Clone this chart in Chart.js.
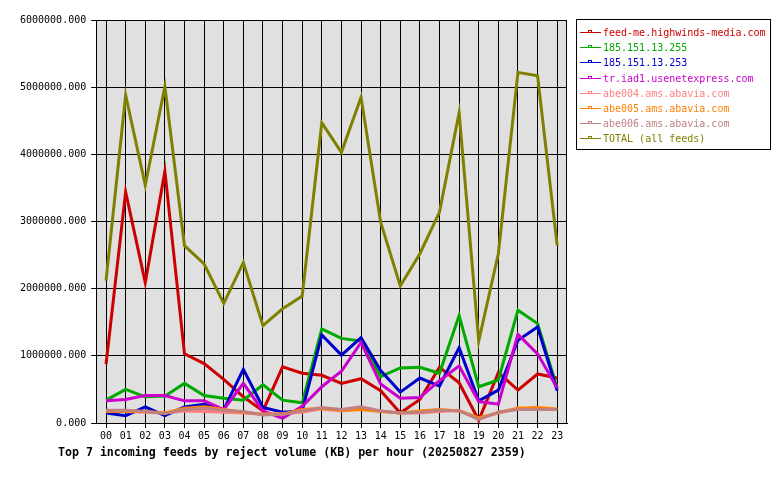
<!DOCTYPE html>
<html>
<head>
<meta charset="utf-8">
<script src="https://cdn.jsdelivr.net/npm/chart.js@4.4.1/dist/chart.umd.min.js"></script>
<style>
  body { margin: 0; background: #fff; }
</style>
</head>
<body>
<canvas id="myChart" width="780" height="480"></canvas>
<script>
var hours = ['00','01','02','03','04','05','06','07','08','09','10','11','12','13','14','15','16','17','18','19','20','21','22','23'];

var feedNames = ['feed-me.highwinds-media.com', '185.151.13.255', '185.151.13.253', 'tr.iad1.usenetexpress.com',
  'abe004.ams.abavia.com', 'abe005.ams.abavia.com', 'abe006.ams.abavia.com', 'TOTAL (all feeds)'];
var feedColors = ['#cc0000', '#00aa00', '#0000cc', '#cc00cc', '#ff8080', '#ff8000', '#c08080', '#808000'];

var feedMe = [875000, 3440000, 2090000, 3750000, 1030000, 885000, 650000, 390000, 180000, 835000, 740000, 710000, 590000, 660000, 480000, 150000, 350000, 830000, 600000, 40000, 750000, 490000, 730000, 670000];
var ip255 = [340000, 500000, 390000, 400000, 590000, 410000, 370000, 340000, 570000, 340000, 300000, 1400000, 1260000, 1220000, 690000, 820000, 830000, 740000, 1600000, 540000, 640000, 1680000, 1480000, 520000];
var ip253 = [150000, 110000, 240000, 110000, 240000, 280000, 200000, 800000, 230000, 160000, 180000, 1310000, 1010000, 1270000, 780000, 460000, 670000, 550000, 1120000, 330000, 490000, 1230000, 1430000, 480000];
var usenetx = [330000, 350000, 410000, 410000, 330000, 330000, 200000, 590000, 180000, 70000, 250000, 540000, 770000, 1200000, 580000, 370000, 380000, 630000, 850000, 320000, 280000, 1320000, 1030000, 520000];
var abe004 = [180000, 170000, 160000, 150000, 180000, 170000, 160000, 150000, 130000, 140000, 160000, 210000, 180000, 210000, 180000, 150000, 150000, 170000, 190000, 60000, 160000, 220000, 200000, 200000];
var abe005 = [170000, 180000, 170000, 150000, 220000, 240000, 200000, 160000, 130000, 130000, 200000, 220000, 190000, 200000, 170000, 150000, 180000, 200000, 180000, 80000, 150000, 220000, 230000, 210000];
var abe006 = [190000, 190000, 170000, 140000, 200000, 220000, 190000, 170000, 120000, 130000, 180000, 230000, 200000, 240000, 180000, 150000, 160000, 190000, 180000, 55000, 160000, 200000, 200000, 200000];
var total = [2120000, 4880000, 3540000, 5010000, 2640000, 2370000, 1780000, 2390000, 1450000, 1700000, 1890000, 4470000, 4030000, 4850000, 2990000, 2040000, 2520000, 3140000, 4620000, 1220000, 2520000, 5220000, 5170000, 2640000];

var yTicks = [0, 1000000, 2000000, 3000000, 4000000, 5000000, 6000000];

var series = [feedMe, ip255, ip253, usenetx, abe004, abe005, abe006, total];
var mono = "'DejaVu Sans Mono', monospace";

var datasets = series.map(function (vals, i) {
  return {
    label: feedNames[i],
    data: vals,
    borderColor: feedColors[i],
    backgroundColor: feedColors[i],
    borderWidth: 3,
    pointRadius: 0,
    tension: 0,
    order: series.length - 1 - i
  };
});

// grey plot background + frame
var plotFrame = {
  id: 'plotFrame',
  beforeDraw: function (chart) {
    var a = chart.chartArea, c = chart.ctx;
    c.save();
    c.fillStyle = '#e0e0e0';
    c.fillRect(a.left, a.top, a.right - a.left, a.bottom - a.top);
    c.restore();
  },
  afterDraw: function (chart) {
    var a = chart.chartArea, c = chart.ctx;
    c.save();
    c.strokeStyle = '#000';
    c.lineWidth = 1;
    c.strokeRect(Math.round(a.left) + 0.5, Math.round(a.top) + 0.5, Math.round(a.right - a.left) - 1, Math.round(a.bottom - a.top));
    c.restore();
  }
};

// boxed legend on the right, title under the axis
var sideLegend = {
  id: 'sideLegend',
  afterDraw: function (chart) {
    var c = chart.ctx;
    c.save();
    c.strokeStyle = '#000';
    c.lineWidth = 1;
    c.strokeRect(576.5, 19.5, 194, 130);
    c.font = '10px ' + mono;
    c.textBaseline = 'middle';
    chart.data.datasets.forEach(function (ds, i) {
      var y = Math.round(32 + 15.2 * i) + 0.5;
      c.strokeStyle = ds.borderColor;
      c.beginPath();
      c.moveTo(580, y);
      c.lineTo(601, y);
      c.stroke();
      c.strokeRect(588.5, y - 2, 3, 2);
      c.fillStyle = ds.borderColor;
      c.fillText(ds.label, 603, y + 0.5);
    });
    c.fillStyle = '#000';
    c.font = 'bold 11.6px ' + mono;
    c.fillText('Top 7 incoming feeds by reject volume (KB) per hour (20250827 2359)', 58, 453);
    c.restore();
  }
};

var ctx = document.getElementById('myChart').getContext('2d');
var myChart = new Chart(ctx, {
  type: 'line',
  data: { labels: hours, datasets: datasets },
  plugins: [plotFrame, sideLegend],
  options: {
    responsive: false,
    animation: false,
    layout: { padding: { left: 15, right: 213, top: 20, bottom: 36 } },
    plugins: { legend: { display: false }, title: { display: false }, tooltip: { enabled: false } },
    scales: {
      x: {
        offset: true,
        grid: { color: '#000', lineWidth: 1, tickLength: 5, tickColor: '#000', offset: false },
        border: { color: '#000', width: 1 },
        ticks: { color: '#000', font: { family: mono, size: 10 }, padding: 2, maxRotation: 0, autoSkip: false }
      },
      y: {
        min: yTicks[0],
        max: yTicks[yTicks.length - 1],
        afterBuildTicks: function (s) { s.ticks = yTicks.map(function (v) { return { value: v }; }); },
        grid: { color: '#000', lineWidth: 1, tickLength: 5, tickColor: '#000' },
        border: { color: '#000', width: 1 },
        ticks: {
          color: '#000', font: { family: mono, size: 10 }, padding: 5,
          callback: function (v) { return Number(v).toFixed(3); }
        }
      }
    }
  }
});
</script>
</body>
</html>
